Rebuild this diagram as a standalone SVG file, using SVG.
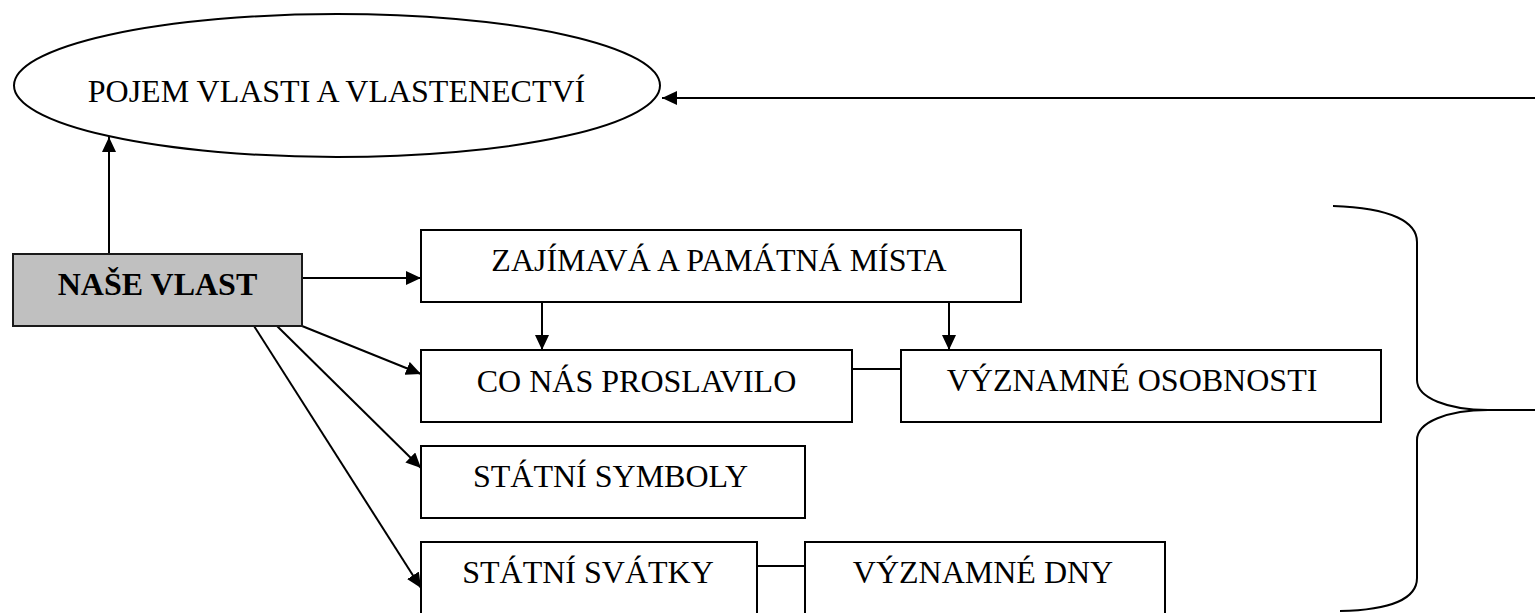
<svg xmlns="http://www.w3.org/2000/svg" width="1535" height="613" viewBox="0 0 1535 613">
<style>
  .box { fill: #ffffff; stroke: #000000; stroke-width: 2; }
  .grey { fill: #c0c0c0; stroke: #1a1a1a; stroke-width: 2; }
  .lbl { font-family: "Liberation Serif", "Times New Roman", serif; font-size: 32px; fill: #000000; text-anchor: middle; }
  .bold { font-weight: bold; }
  .conn { stroke: #000000; stroke-width: 2; fill: none; }
  .arr { marker-end: url(#ah); }
</style>
<defs>
  <marker id="ah" markerUnits="userSpaceOnUse" markerWidth="16" markerHeight="14" refX="15" refY="7" orient="auto">
    <path d="M0,0 L15,7 L0,14 z" fill="#000000"/>
  </marker>
</defs>
<rect width="1535" height="613" fill="#ffffff"/>

<g id="connectors">
  <line class="conn arr" x1="109" y1="254" x2="109" y2="137"/>
  <line class="conn arr" x1="1535" y1="98" x2="662" y2="98"/>
  <line class="conn arr" x1="302" y1="278" x2="421" y2="278"/>
  <line class="conn arr" x1="302" y1="326" x2="421" y2="374"/>
  <line class="conn arr" x1="277" y1="326" x2="421" y2="468"/>
  <line class="conn arr" x1="254" y1="326" x2="421" y2="588"/>
  <line class="conn arr" x1="542" y1="302" x2="542" y2="350"/>
  <line class="conn arr" x1="949" y1="302" x2="949" y2="350"/>
  <line class="conn" x1="852" y1="369" x2="901" y2="369"/>
  <line class="conn" x1="757" y1="566" x2="805" y2="566"/>
  <path class="conn" d="M1333,206 C1392,208 1417,222 1417,242 L1417,380 C1417,398 1448,410 1488,410 C1448,410 1417,422 1417,440 L1417,578 C1417,598 1392,610 1340,611"/>
  <line class="conn" x1="1486" y1="410" x2="1535" y2="410"/>
</g>

<g id="pojem">
  <ellipse cx="337" cy="85.5" rx="323" ry="71.5" fill="#ffffff" stroke="#000000" stroke-width="2"/>
  <text class="lbl" x="336.5" y="102">POJEM VLASTI A VLASTENECTVÍ</text>
</g>

<g id="nase-vlast">
  <rect class="grey" x="13" y="254" width="289" height="72"/>
  <text class="lbl bold" x="157.5" y="295">NAŠE VLAST</text>
</g>

<g id="zajimava">
  <rect class="box" x="421" y="230" width="600" height="72"/>
  <text class="lbl" x="719" y="271">ZAJÍMAVÁ A PAMÁTNÁ MÍSTA</text>
</g>

<g id="co-nas">
  <rect class="box" x="421" y="350" width="431" height="72"/>
  <text class="lbl" x="636.5" y="392">CO NÁS PROSLAVILO</text>
</g>

<g id="osobnosti">
  <rect class="box" x="901" y="350" width="480" height="72"/>
  <text class="lbl" x="1132" y="391">VÝZNAMNÉ OSOBNOSTI</text>
</g>

<g id="symboly">
  <rect class="box" x="421" y="446" width="384" height="72"/>
  <text class="lbl" x="610.5" y="487">STÁTNÍ SYMBOLY</text>
</g>

<g id="svatky">
  <rect class="box" x="421" y="542" width="336" height="80"/>
  <text class="lbl" x="588" y="583">STÁTNÍ SVÁTKY</text>
</g>

<g id="dny">
  <rect class="box" x="805" y="542" width="360" height="80"/>
  <text class="lbl" x="983" y="583">VÝZNAMNÉ DNY</text>
</g>
</svg>
